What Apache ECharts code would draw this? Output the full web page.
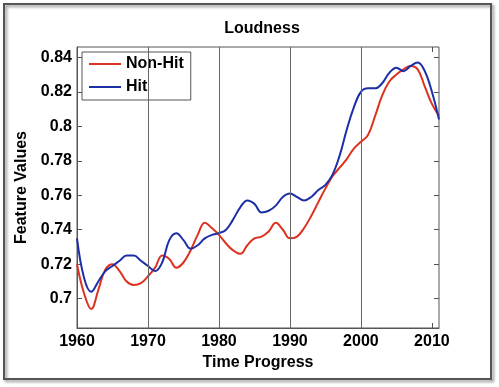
<!DOCTYPE html>
<html>
<head>
<meta charset="utf-8">
<script src="https://cdn.jsdelivr.net/npm/echarts@6/dist/echarts.min.js"></script>
<style>
html,body{margin:0;padding:0;background:#fff;}
#chart{width:499px;height:387px;}
</style>
</head>
<body>
<div id="chart"></div>
<script>
const years = [1960,1961,1962,1963,1964,1965,1966,1967,1968,1969,1970,1971,1972,1973,1974,1975,1976,1977,1978,1979,1980,1981,1982,1983,1984,1985,1986,1987,1988,1989,1990,1991,1992,1993,1994,1995,1996,1997,1998,1999,2000,2001,2002,2003,2004,2005,2006,2007,2008,2009,2010,2011];
const nonHit = [0.720,0.703,0.694,0.705,0.717,0.720,0.716,0.710,0.708,0.709,0.713,0.718,0.725,0.723,0.718,0.721,0.728,0.737,0.744,0.741,0.737,0.732,0.728,0.726,0.731,0.735,0.736,0.739,0.744,0.740,0.735,0.736,0.741,0.748,0.756,0.764,0.771,0.776,0.781,0.787,0.791,0.795,0.806,0.818,0.826,0.830,0.833,0.835,0.833,0.823,0.813,0.806];
const hit = [0.735,0.712,0.704,0.710,0.716,0.719,0.722,0.725,0.725,0.722,0.719,0.716,0.721,0.734,0.738,0.734,0.729,0.731,0.735,0.737,0.738,0.740,0.746,0.753,0.757,0.755,0.750,0.751,0.754,0.759,0.761,0.759,0.757,0.759,0.763,0.766,0.772,0.783,0.798,0.811,0.820,0.822,0.822,0.825,0.831,0.834,0.832,0.835,0.837,0.832,0.820,0.804];
const xTicks = [1960,1970,1980,1990,2000,2010];
const yTicks = [0.7,0.72,0.74,0.76,0.78,0.8,0.82,0.84];
const vLines = [1970,1980,1990,2000];
const seriesNames = ['Non-Hit','Hit'];
const titleText = 'Loudness';
const xName = 'Time Progress';
const yName = 'Feature Values';

const font = 'Liberation Sans, Arial, sans-serif';
const chart = echarts.init(document.getElementById('chart'), null, {renderer:'canvas'});
const lbl = {fontFamily:font, fontWeight:'bold', fontSize:16, color:'#000'};
const yFmt = v => String(+(+v).toFixed(2));
const xFmt = v => String(Math.round(v));
const redC = '#dc3220', blueC = '#1c2fa6';

chart.setOption({
  animation:false,
  backgroundColor:'#fff',
  title:{text:titleText, left:257, top:16, textAlign:'center',
    textStyle:{fontFamily:font, fontWeight:'bold', fontSize:16, color:'#000'}},
  grid:{left:77, top:47, right:60, bottom:59, show:true, borderColor:'#555', borderWidth:1, backgroundColor:'transparent'},
  legend:{orient:'vertical', left:82, top:52, backgroundColor:'#fff', borderColor:'#555', borderWidth:1,
    padding:[4,7,5,7], itemWidth:32, itemHeight:2, itemGap:7, icon:'rect',
    textStyle:{fontFamily:font, fontWeight:'bold', fontSize:16, color:'#000', lineHeight:16},
    data:[{name:seriesNames[0], itemStyle:{color:redC}}, {name:seriesNames[1], itemStyle:{color:blueC}}]},
  xAxis:[{type:'value', min:1960, max:2011, name:xName, nameLocation:'middle', nameGap:20,
    nameTextStyle:lbl,
    axisLine:{show:true, lineStyle:{color:'#555'}},
    axisTick:{show:true, inside:true, length:5, customValues:xTicks, lineStyle:{color:'#555'}},
    axisLabel:{customValues:xTicks, margin:6, formatter:xFmt, ...lbl},
    splitLine:{show:false}},
    {type:'value', position:'top', min:1960, max:2011,
    axisLine:{show:false},
    axisTick:{show:true, inside:true, length:5, customValues:xTicks, lineStyle:{color:'#555'}},
    axisLabel:{show:false, customValues:xTicks}, splitLine:{show:false}}],
  yAxis:[{type:'value', min:0.683, max:0.846, name:yName, nameLocation:'middle', nameGap:44,
    nameTextStyle:lbl,
    axisLine:{show:true, lineStyle:{color:'#555'}},
    axisTick:{show:true, inside:true, length:5, customValues:yTicks, lineStyle:{color:'#555'}},
    axisLabel:{customValues:yTicks, margin:5, formatter:yFmt, ...lbl},
    splitLine:{show:false}},
    {type:'value', position:'right', min:0.683, max:0.846,
    axisLine:{show:false},
    axisTick:{show:true, inside:true, length:5, customValues:yTicks, lineStyle:{color:'#555'}},
    axisLabel:{show:false, customValues:yTicks}, splitLine:{show:false}}],
  series:[
    {name:seriesNames[0], type:'line', symbol:'none', smooth:0.4, z:3,
      data:years.map((y,i)=>[y,nonHit[i]]),
      lineStyle:{color:redC, width:2}, itemStyle:{color:redC},
      markLine:{silent:true, symbol:'none', label:{show:false},
        lineStyle:{color:'#666', type:'solid', width:1},
        data:vLines.map(v=>({xAxis:v}))}},
    {name:seriesNames[1], type:'line', symbol:'none', smooth:0.4, z:4,
      data:years.map((y,i)=>[y,hit[i]]),
      lineStyle:{color:blueC, width:2}, itemStyle:{color:blueC}}
  ],
  graphic:[{type:'rect', z:100, silent:true,
    shape:{x:4, y:4, width:487, height:375},
    style:{fill:'none', stroke:'#555', lineWidth:2, shadowBlur:3, shadowOffsetX:2, shadowOffsetY:2, shadowColor:'rgba(0,0,0,0.45)'}}]
});
</script>
</body>
</html>
